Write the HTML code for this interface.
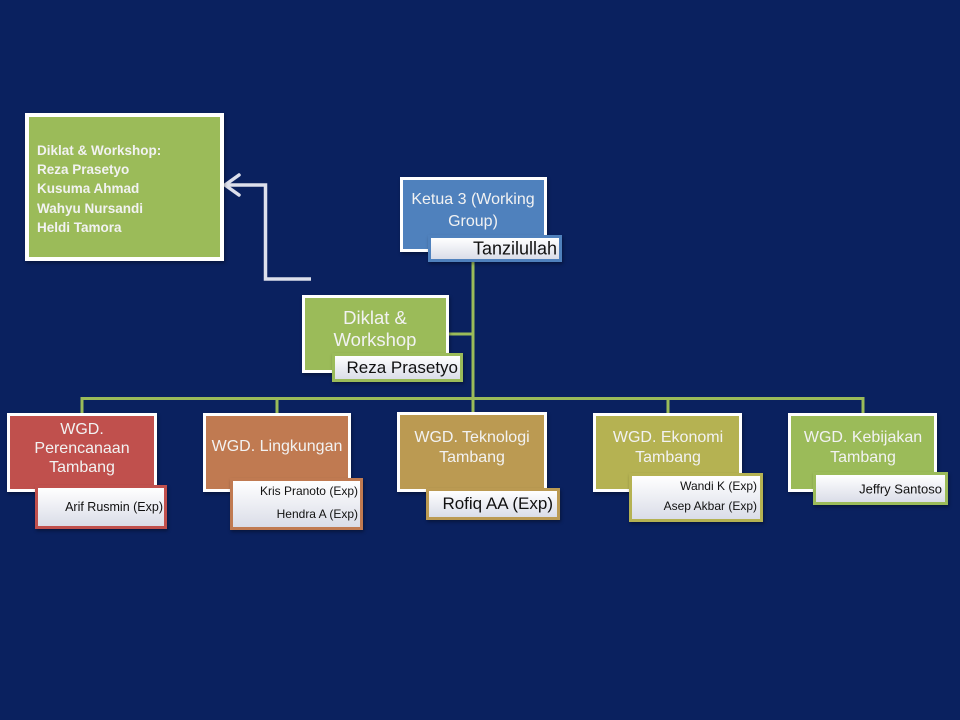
<!DOCTYPE html>
<html><head><meta charset="utf-8"><style>
html,body{margin:0;padding:0;}
body{width:960px;height:720px;background:#0a215f;position:relative;overflow:hidden;font-family:"Liberation Sans",sans-serif;}
.b{position:absolute;box-sizing:border-box;border:3px solid #fff;box-shadow:1px 2px 3px rgba(0,0,0,.35);}
.s{position:absolute;box-sizing:border-box;border:3px solid;background:linear-gradient(#ffffff,#dadde8);box-shadow:1px 2px 3px rgba(0,0,0,.35);}
.t{position:absolute;color:#f2f2f2;white-space:nowrap;text-align:center;transform:translate(-50%,-50%);}
.r{position:absolute;color:#111;white-space:nowrap;transform:translate(-100%,-50%);}
svg{position:absolute;left:0;top:0;}
</style></head><body>
<svg width="960" height="720">
  <g stroke="#9bbb59" stroke-width="3" fill="none">
    <line x1="473" y1="255" x2="473" y2="414"/>
    <line x1="445" y1="334" x2="473" y2="334"/>
    <line x1="82" y1="398.5" x2="863" y2="398.5"/>
    <line x1="82" y1="397" x2="82" y2="414"/>
    <line x1="277" y1="397" x2="277" y2="414"/>
    <line x1="668" y1="397" x2="668" y2="414"/>
    <line x1="863" y1="397" x2="863" y2="414"/>
  </g>
  <g stroke="#dde0ec" stroke-width="3.5" fill="none" stroke-linejoin="miter">
    <polyline points="311,279 265.5,279 265.5,185 225,185"/>
    <polyline points="239,175 225,185 239,195" stroke-linecap="round" stroke-linejoin="round"/>
  </g>
</svg>

<!-- left info box -->
<div class="b" style="left:25px;top:113px;width:199px;height:148px;background:#9bbb59;border-width:4px;"></div>
<div style="position:absolute;left:37px;top:141px;color:#f2f2f2;font-weight:bold;font-size:13.5px;line-height:19.2px;white-space:nowrap;">Diklat &amp; Workshop:<br>Reza Prasetyo<br>Kusuma Ahmad<br>Wahyu Nursandi<br>Heldi Tamora</div>

<!-- Ketua -->
<div class="b" style="left:400px;top:177px;width:147px;height:75px;background:#4f81bd;"></div>
<div class="t" style="left:473px;top:200px;font-size:16px;">Ketua 3 (Working</div>
<div class="t" style="left:473px;top:222px;font-size:16px;">Group)</div>
<div class="s" style="left:428px;top:235px;width:134px;height:27px;border-color:#4f81bd;"></div>
<div class="r" style="left:557px;top:249px;font-size:18px;">Tanzilullah</div>

<!-- Diklat -->
<div class="b" style="left:302px;top:295px;width:147px;height:78px;background:#9bbb59;"></div>
<div class="t" style="left:375px;top:318px;font-size:18.5px;">Diklat &amp;</div>
<div class="t" style="left:375px;top:340px;font-size:18.5px;">Workshop</div>
<div class="s" style="left:332px;top:353px;width:131px;height:29px;border-color:#9bbb59;"></div>
<div class="r" style="left:458px;top:368px;font-size:17px;">Reza Prasetyo</div>

<!-- Perencanaan -->
<div class="b" style="left:7px;top:413px;width:150px;height:79px;background:#c0504d;"></div>
<div class="t" style="left:82px;top:430px;font-size:16px;">WGD.</div>
<div class="t" style="left:82px;top:449px;font-size:16px;">Perencanaan</div>
<div class="t" style="left:82px;top:468px;font-size:16px;">Tambang</div>
<div class="s" style="left:35px;top:485px;width:132px;height:44px;border-color:#c0504d;"></div>
<div class="r" style="left:163px;top:507px;font-size:12.5px;">Arif Rusmin (Exp)</div>

<!-- Lingkungan -->
<div class="b" style="left:203px;top:413px;width:148px;height:79px;background:#c07a51;"></div>
<div class="t" style="left:277px;top:447px;font-size:16px;">WGD. Lingkungan</div>
<div class="s" style="left:230px;top:478px;width:133px;height:52px;border-color:#c07a51;"></div>
<div class="r" style="left:358px;top:491px;font-size:12px;">Kris Pranoto (Exp)</div>
<div class="r" style="left:358px;top:514px;font-size:12px;">Hendra A (Exp)</div>

<!-- Teknologi -->
<div class="b" style="left:397px;top:412px;width:150px;height:80px;background:#bb9a52;"></div>
<div class="t" style="left:472px;top:438px;font-size:16px;">WGD. Teknologi</div>
<div class="t" style="left:472px;top:458px;font-size:16px;">Tambang</div>
<div class="s" style="left:426px;top:488px;width:134px;height:32px;border-color:#bb9a52;"></div>
<div class="r" style="left:553px;top:504px;font-size:17px;">Rofiq AA (Exp)</div>

<!-- Ekonomi -->
<div class="b" style="left:593px;top:413px;width:149px;height:79px;background:#b5b252;"></div>
<div class="t" style="left:668px;top:438px;font-size:16px;">WGD. Ekonomi</div>
<div class="t" style="left:668px;top:458px;font-size:16px;">Tambang</div>
<div class="s" style="left:629px;top:473px;width:134px;height:49px;border-color:#b5b252;"></div>
<div class="r" style="left:757px;top:486px;font-size:12px;">Wandi K (Exp)</div>
<div class="r" style="left:757px;top:506px;font-size:12px;">Asep Akbar (Exp)</div>

<!-- Kebijakan -->
<div class="b" style="left:788px;top:413px;width:149px;height:79px;background:#9bbb59;"></div>
<div class="t" style="left:863px;top:438px;font-size:16px;">WGD. Kebijakan</div>
<div class="t" style="left:863px;top:458px;font-size:16px;">Tambang</div>
<div class="s" style="left:813px;top:472px;width:135px;height:33px;border-color:#9bbb59;"></div>
<div class="r" style="left:942px;top:489px;font-size:13px;">Jeffry Santoso</div>
</body></html>
